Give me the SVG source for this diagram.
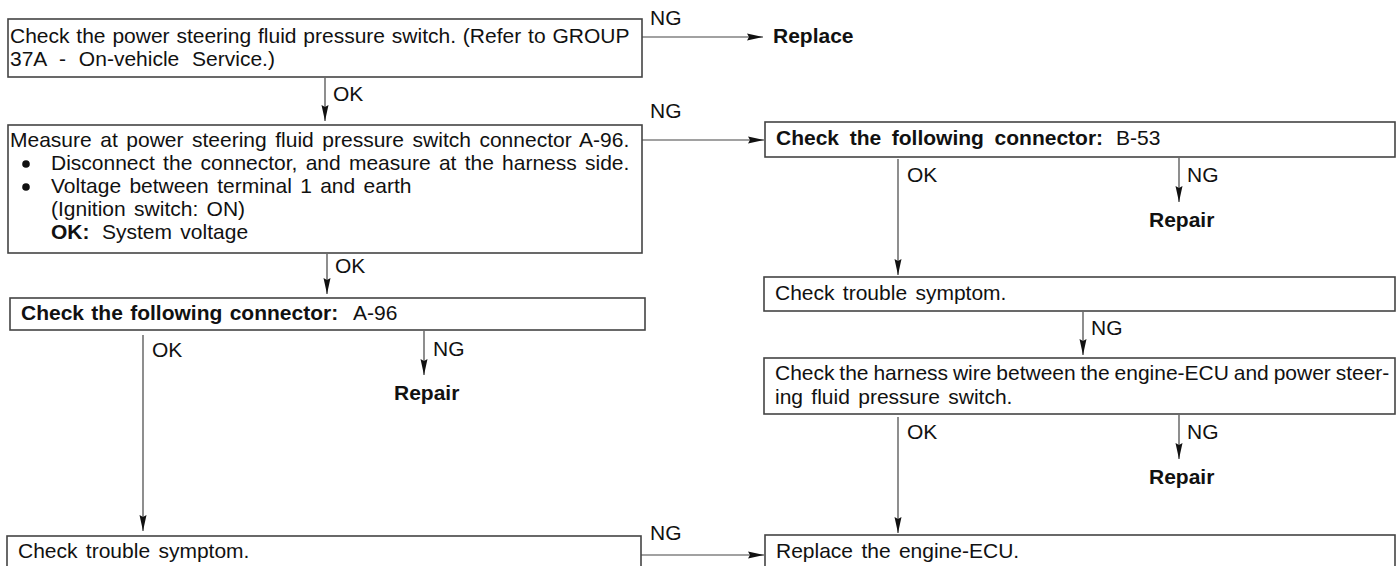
<svg xmlns="http://www.w3.org/2000/svg" width="1396" height="566" viewBox="0 0 1396 566">
<style>
  text { font-family: "Liberation Sans", Arial, sans-serif; font-size: 21px; fill: #111; word-spacing: 2.5px; }
  .b { font-weight: bold; }
  .box { fill: #fff; stroke: #444; stroke-width: 1.6; }
  .con { stroke: #444; stroke-width: 1.2; fill: none; marker-end: url(#ah); }
</style>
<defs>
  <marker id="ah" markerUnits="userSpaceOnUse" markerWidth="16" markerHeight="8" refX="16" refY="4" orient="auto">
    <path d="M0,0.5 L16,4 L0,7.5 L2,4 Z" fill="#111"/>
  </marker>
</defs>
<rect width="1396" height="566" fill="#fff"/>

<g id="connectors">
  <line class="con" x1="642" y1="37" x2="763" y2="37"/>
  <text x="650" y="25">NG</text>
  <line class="con" x1="325" y1="78" x2="325" y2="121"/>
  <text x="333" y="101">OK</text>
  <line class="con" x1="642" y1="140" x2="764" y2="140"/>
  <text x="650" y="118">NG</text>
  <line class="con" x1="327" y1="254" x2="327" y2="294"/>
  <text x="335" y="273">OK</text>
  <line class="con" x1="424" y1="331" x2="424" y2="375"/>
  <text x="433" y="356">NG</text>
  <line class="con" x1="143" y1="335" x2="143" y2="531"/>
  <text x="152" y="357">OK</text>
  <line class="con" x1="641" y1="555" x2="764" y2="555"/>
  <text x="650" y="540">NG</text>
  <line class="con" x1="898" y1="159" x2="898" y2="275"/>
  <text x="907" y="182">OK</text>
  <line class="con" x1="1179" y1="158" x2="1179" y2="202"/>
  <text x="1187" y="182">NG</text>
  <line class="con" x1="1083" y1="312" x2="1083" y2="355"/>
  <text x="1091" y="335">NG</text>
  <line class="con" x1="898" y1="417" x2="898" y2="533"/>
  <text x="907" y="439">OK</text>
  <line class="con" x1="1179" y1="415" x2="1179" y2="459"/>
  <text x="1187" y="439">NG</text>
</g>

<g id="n1">
  <rect class="box" x="8" y="19" width="634" height="58"/>
  <text x="10" y="43" style="word-spacing:1px">Check the power steering fluid pressure switch. (Refer to GROUP</text>
  <text x="10" y="66" style="word-spacing:7px">37A - On-vehicle Service.)</text>
</g>

<g id="n-replace">
  <text class="b" x="773" y="43">Replace</text>
</g>

<g id="n2">
  <rect class="box" x="8" y="125" width="634" height="128"/>
  <text x="10" y="147" style="word-spacing:2.7px">Measure at power steering fluid pressure switch connector A-96.</text>
  <circle cx="26" cy="164" r="3.8" fill="#111"/>
  <text x="51" y="170" style="word-spacing:2.4px">Disconnect the connector, and measure at the harness side.</text>
  <circle cx="26" cy="187" r="3.8" fill="#111"/>
  <text x="51" y="193">Voltage between terminal 1 and earth</text>
  <text x="51" y="216">(Ignition switch: ON)</text>
  <text x="51" y="239"><tspan class="b">OK:</tspan><tspan x="102">System voltage</tspan></text>
</g>

<g id="n3">
  <rect class="box" x="10" y="298" width="635" height="32"/>
  <text x="21" y="320"><tspan class="b" style="word-spacing:1.5px">Check the following connector:</tspan><tspan x="353">A-96</tspan></text>
</g>

<g id="n-repair1">
  <text class="b" x="394" y="400">Repair</text>
</g>

<g id="n4">
  <rect class="box" x="7" y="536" width="634" height="40"/>
  <text x="18" y="558">Check trouble symptom.</text>
</g>

<g id="n5">
  <rect class="box" x="765" y="122" width="630" height="35"/>
  <text x="776" y="145"><tspan class="b" style="word-spacing:4.8px">Check the following connector:</tspan><tspan x="1116">B-53</tspan></text>
</g>

<g id="n-repair2">
  <text class="b" x="1149" y="227">Repair</text>
</g>

<g id="n6">
  <rect class="box" x="764" y="277" width="631" height="34"/>
  <text x="775" y="300">Check trouble symptom.</text>
</g>

<g id="n7">
  <rect class="box" x="764" y="358" width="631" height="56"/>
  <text x="775" y="380" style="word-spacing:-1px">Check the harness wire between the engine-ECU and power steer-</text>
  <text x="775" y="404">ing fluid pressure switch.</text>
</g>

<g id="n-repair3">
  <text class="b" x="1149" y="484">Repair</text>
</g>

<g id="n8">
  <rect class="box" x="765" y="535" width="630" height="40"/>
  <text x="776" y="558">Replace the engine-ECU.</text>
</g>
</svg>
